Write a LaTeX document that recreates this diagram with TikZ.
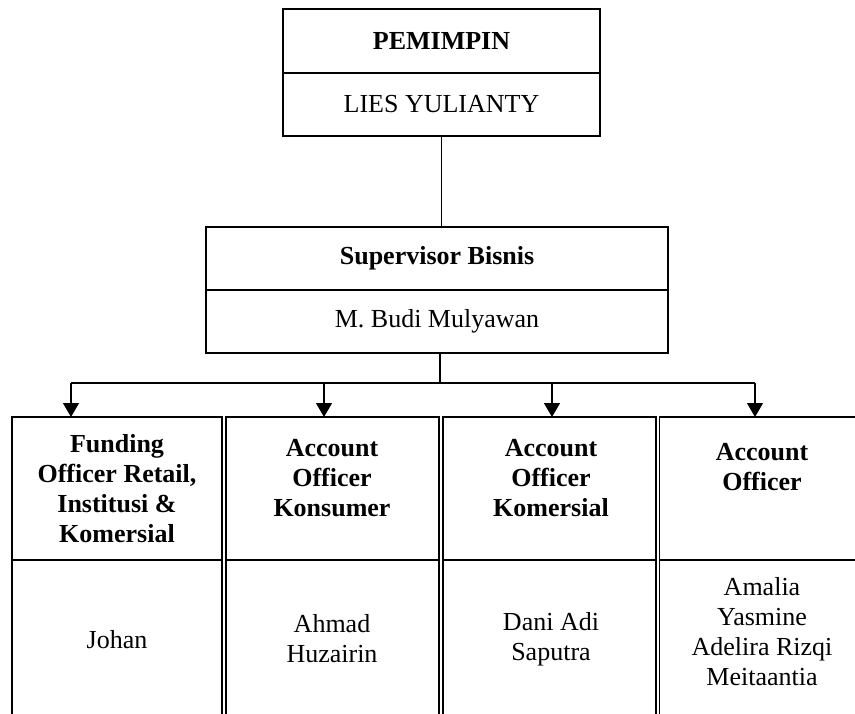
\documentclass[tikz,border=0pt]{standalone}
\usepackage{fontspec}
\setmainfont{Liberation Serif}
\usetikzlibrary{arrows.meta}
\begin{document}
\begin{tikzpicture}[x=1pt,y=-1pt,
  box/.style={draw, line width=1.1pt, inner sep=0pt, outer sep=0pt, anchor=north west,
    font=\fontsize{26}{30}\selectfont, align=center},
  txt/.style={font=\fontsize{26}{30}\selectfont, align=center, inner sep=0pt},
  btxt/.style={font=\fontsize{26}{30}\selectfont\bfseries, align=center, inner sep=0pt},
  conn/.style={line width=1.3pt},
  arr/.style={conn, -{Triangle[width=16pt,length=14pt]}}
]
\useasboundingbox (0,0) rectangle (855,713);
\clip (0,0) rectangle (855,713);
% top box
\node[box, minimum width=317pt, minimum height=64pt] (pem) at (283,9) {\bfseries PEMIMPIN};
\node[box, minimum width=317pt, minimum height=63pt] (lies) at (283,73) {LIES YULIANTY};
% supervisor
\node[box, minimum width=462pt, minimum height=63pt] (sup) at (206,227) {\bfseries Supervisor Bisnis};
\node[box, minimum width=462pt, minimum height=63pt] (mbm) at (206,290) {M. Budi Mulyawan};
% bottom boxes
\node[box, minimum width=210pt, minimum height=143pt] (h1) at (12,417) {};
\node[box, minimum width=210pt, minimum height=175pt] (l1) at (12,560) {};
\node[box, minimum width=213pt, minimum height=143pt] (h2) at (226,417) {};
\node[box, minimum width=213pt, minimum height=175pt] (l2) at (226,560) {};
\node[box, minimum width=213pt, minimum height=143pt] (h3) at (443,417) {};
\node[box, minimum width=213pt, minimum height=175pt] (l3) at (443,560) {};
\node[box, minimum width=206pt, minimum height=143pt] (h4) at (659.5,417) {};
\node[box, minimum width=206pt, minimum height=175pt] (l4) at (659.5,560) {};
% texts
\node[btxt] (t1) at (117,489) {Funding\\Officer Retail,\\Institusi \&\\Komersial};
\node[btxt] (t2) at (332,478) {Account\\Officer\\Konsumer};
\node[btxt] (t3) at (551,478) {Account\\Officer\\Komersial};
\node[btxt] (t4) at (762,467) {Account\\Officer};
\node[txt] (n1) at (117,640) {Johan};
\node[txt] (n2) at (332,639) {Ahmad\\Huzairin};
\node[txt] (n3) at (551,639) {Dani Adi\\Saputra};
\node[txt] (n4) at (762,632) {Amalia\\Yasmine\\Adelira Rizqi\\Meitaantia};
% connectors
\draw[conn] (lies.south) -- (lies.south |- sup.north);
\coordinate (a1) at (71,383);
\coordinate (a2) at (324,383);
\coordinate (a3) at (552,383);
\coordinate (a4) at (755,383);
\draw[conn] ([xshift=3pt]mbm.south) -- ([xshift=3pt]mbm.south |- a1);
\draw[conn] (a1) -- (a4);
\draw[arr] (a1) -- (a1 |- h1.north);
\draw[arr] (a2) -- (a2 |- h2.north);
\draw[arr] (a3) -- (a3 |- h3.north);
\draw[arr] (a4) -- (a4 |- h4.north);
\end{tikzpicture}
\end{document}
